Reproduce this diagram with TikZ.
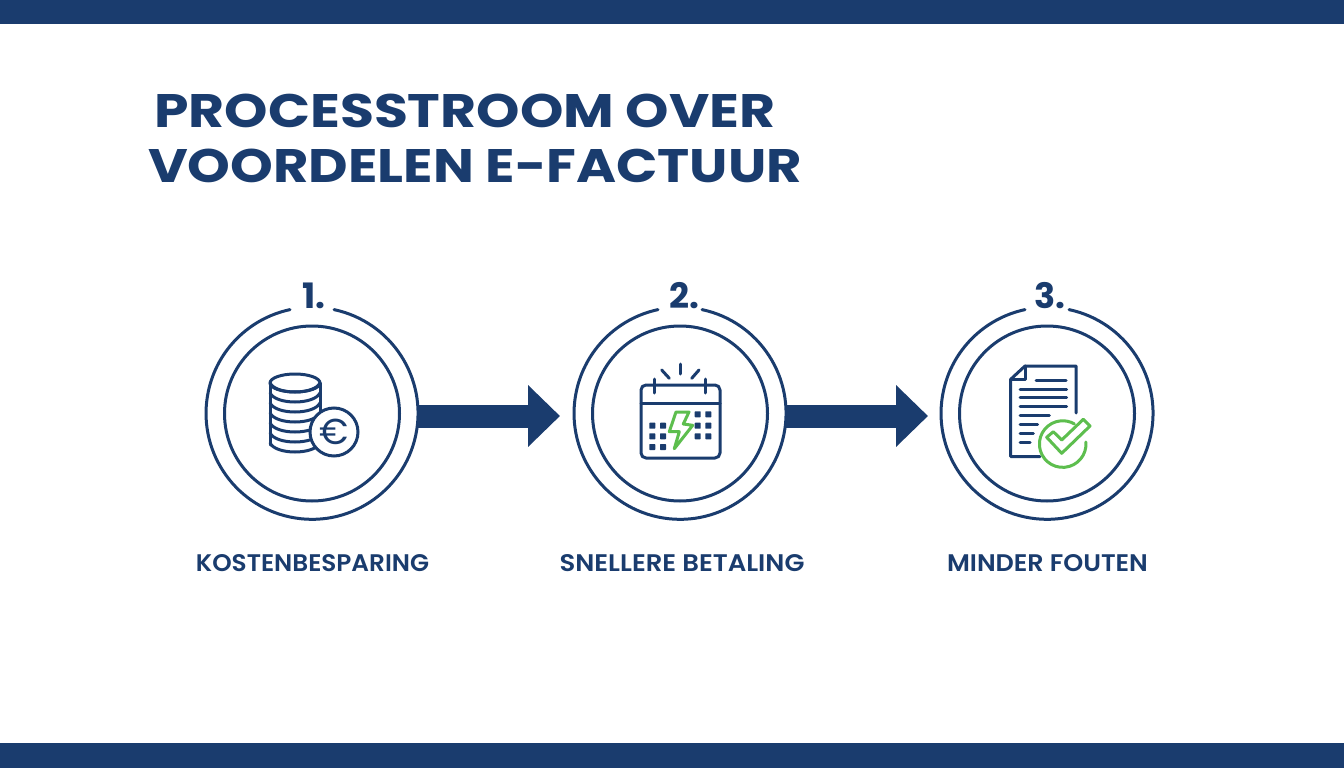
\documentclass[tikz,border=0pt]{standalone}
\usepackage{fontspec}
\setmainfont{Poppins}
\newfontfamily\semifont{Poppins SemiBold}
\usetikzlibrary{arrows.meta}
\definecolor{navy}{HTML}{1A3C6E}
\definecolor{leaf}{HTML}{5DBE4E}
\tikzset{
  ring/.style={circle,draw=navy,line width=3pt,minimum size=175pt,inner sep=0pt},
  outerbase/.style={circle,minimum size=212pt,inner sep=0pt},
  numlabel/.style={text=navy,font=\fontsize{35}{35}\selectfont\bfseries},
  caption/.style={text=navy,font=\fontsize{24}{26}\selectfont\semifont,inner sep=0pt,transform shape},
  titleline/.style={text=navy,anchor=west,inner sep=0pt,font=\fontsize{47}{56}\selectfont\bfseries,transform shape},
  flow/.style={draw=navy,line width=23pt,-{Triangle[length=32pt,width=60pt]}},
  icon/.style={draw=navy,line width=3pt,line cap=round,line join=round},
  gicon/.style={draw=leaf,line width=3pt,line cap=round,line join=round},
  sq/.style={fill=navy,draw=none,rounded corners=0.6pt}
}
\newcommand{\calsq}[2]{\fill[sq] (#1-3,#2-3) rectangle (#1+3,#2+3);}
\begin{document}
\begin{tikzpicture}[x=1pt,y=-1pt]
\useasboundingbox (0,0) rectangle (1344,768);
\fill[white] (0,0) rectangle (1344,768);
\fill[navy] (0,0) rectangle (1344,24);
\fill[navy] (0,743) rectangle (1344,768);

\node[titleline,xscale=1.175] (title1) at (154,111) {PROCESSTROOM OVER};
\node[titleline,xscale=1.157] (title2) at (148,166) {VOORDELEN E-FACTUUR};

% circles
\node[outerbase] (o1) at (312,413.5) {};
\node[outerbase] (o2) at (680,413.5) {};
\node[outerbase] (o3) at (1047,413.5) {};
\node[ring] (r1) at (o1) {};
\node[ring] (r2) at (o2) {};
\node[ring] (r3) at (o3) {};
\foreach \n in {o1,o2,o3}{
  \draw[navy,line width=3pt,line cap=round] (\n.78) arc[start angle=78,delta angle=-336,radius=106pt];
}
\node[numlabel] (n1) at (314,296) {1.};
\node[numlabel] (n2) at (684,296) {2.};
\node[numlabel] (n3) at (1050,296) {3.};

% arrows
\coordinate (t1) at (560,416);
\coordinate (t2) at (928,416);
\draw[flow] (o1.east |- t1) -- (t1);
\draw[flow] (o2.east |- t2) -- (t2);

% captions
\node[caption,xscale=1.03] (c1) at (312.5,563.5) {KOSTENBESPARING};
\node[caption,xscale=1.08] (c2) at (682,563.5) {SNELLERE BETALING};
\node[caption,xscale=1.06] (c3) at (1047.5,563.5) {MINDER FOUTEN};

% coins
\draw[icon] (295,383) ellipse[x radius=25,y radius=9];
\draw[icon] (270,383) -- (270,445);
\draw[icon] (320,383) -- (320,412);
\foreach \y in {383,393,403,413,423,433,443}{
  \draw[icon] (270,\y) .. controls (276,\y+12) and (314,\y+12) .. (320,\y);
}
\node[circle,fill=white,draw=navy,line width=3pt,minimum size=48pt,inner sep=0pt,text=navy,font=\fontsize{36}{36}\selectfont] (euro) at (334,432) {€};

% calendar
\draw[icon,rounded corners=5pt] (641,385) rectangle (720,458);
\draw[icon] (641,403) -- (720,403);
\draw[icon] (654.7,379) -- (654.7,393);
\draw[icon] (705.7,379) -- (705.7,393);
\draw[icon] (680,364) -- (680,374);
\draw[icon] (661.7,370) -- (669.3,378.3);
\draw[icon] (699,370) -- (691.7,378.3);
\foreach \x/\y in {652.3/425.7,663/425.7,652.3/436.3,663/436.3,652.3/447,663/447,697.7/414.3,708.3/414.3,697.7/425.7,708.3/425.7,697.7/436.3,708.3/436.3}{\calsq{\x}{\y}}
\draw[gicon,fill=white] (676,412) -- (689,412) -- (683.3,424) -- (692.7,425.3) -- (674.3,448.7) -- (679.3,431.7) -- (669.3,431.7) -- cycle;

% document
\draw[icon] (1076,413) -- (1076,366) -- (1025,366) -- (1010.7,379.3) -- (1010.7,456.7) -- (1040,456.7);
\draw[icon] (1025,366) -- (1025,379.3) -- (1010.7,379.3);
\draw[icon] (1036,380) -- (1066,380);
\foreach \y in {389,397.7,406.7}{\draw[icon] (1020,\y) -- (1066.7,\y);}
\draw[icon] (1020,415.7) -- (1049.3,415.7);
\draw[icon] (1020,424.7) -- (1037.7,424.7);
\draw[icon] (1020,433.7) -- (1033.3,433.7);
\draw[icon] (1020,442.7) -- (1030,442.7);
\fill[white] (1062.7,440) circle[radius=23];
\draw[gicon] (1062.7,440) ++(5:23.3) arc[start angle=-5,delta angle=305,radius=23.3];
\draw[gicon,fill=white] (1046.7,437.3) -- (1053.3,431.7) -- (1061.7,440) -- (1083.3,419.3) -- (1090,426) -- (1061.7,453.3) -- cycle;
\end{tikzpicture}
\end{document}
